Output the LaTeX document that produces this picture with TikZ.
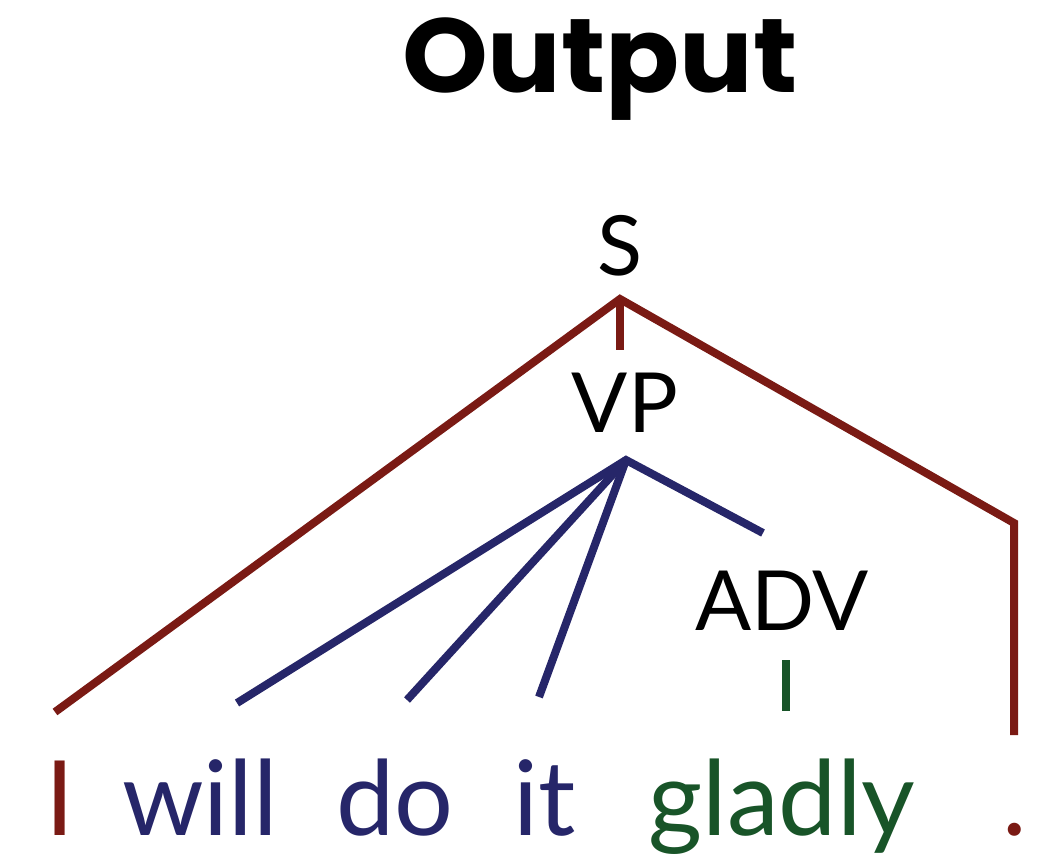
\documentclass[tikz,border=0pt]{standalone}
\usepackage{fontspec}
\setmainfont{Lato}
\newfontfamily\titlefont{Poppins}
\definecolor{treered}{RGB}{122,26,20}
\definecolor{treeblue}{RGB}{38,38,105}
\definecolor{treegreen}{RGB}{24,84,40}
\begin{document}
\begin{tikzpicture}[x=1pt,y=-1pt,
  edge/.style={line width=8pt},
  cat/.style={inner sep=0pt,anchor=base,font=\fontsize{83}{90}\selectfont},
  word/.style={inner sep=0pt,anchor=base,font=\fontsize{104}{110}\selectfont},
  title/.style={inner sep=0pt,anchor=base,font=\titlefont\bfseries\fontsize{105}{110}\selectfont}]
\useasboundingbox (0,0) rectangle (1041,862);
% heading
\node[title,xscale=1.04] (title) at (600,92) {Output};
% category labels
\node[cat] (S) at (620,275) {S};
\node[cat] (VP) at (625,432) {VP};
\node[cat] (ADV) at (782,630) {ADV};
% words
\node[word,text=treered] (wI) at (60,835) {I};
\node[word,text=treeblue] (wwill) at (200,835) {will};
\node[word,text=treeblue] (wdo) at (395,835) {do};
\node[word,text=treeblue] (wit) at (545,835) {it};
\node[word,text=treegreen] (wgladly) at (782,835) {gladly};
\node[word,text=treered] (wdot) at (1015,835) {.};
% branch points
\coordinate (sApex) at (620,299);
\coordinate (sMid) at (620,350);
\coordinate (sLeft) at (55,712);
\coordinate (sBend) at (1014,523);
\coordinate (sRight) at (1014,735);
\coordinate (vpApex) at (626,460);
\coordinate (vpWill) at (237,703);
\coordinate (vpDo) at (407,700);
\coordinate (vpIt) at (539,697);
\coordinate (vpAdv) at (763,533);
\coordinate (advTop) at (786,660);
\coordinate (advBot) at (786,711);
% S edges
\draw[edge,treered,line join=miter] (sLeft) -- (sApex) -- (sBend) -- (sRight);
\draw[edge,treered] (sApex) -- (sMid);
% VP edges
\draw[edge,treeblue] (vpWill) -- (vpApex) -- (vpAdv);
\draw[edge,treeblue] (vpDo) -- (vpApex);
\draw[edge,treeblue] (vpIt) -- (vpApex);
% ADV edge
\draw[edge,treegreen] (advTop) -- (advBot);
\end{tikzpicture}
\end{document}
